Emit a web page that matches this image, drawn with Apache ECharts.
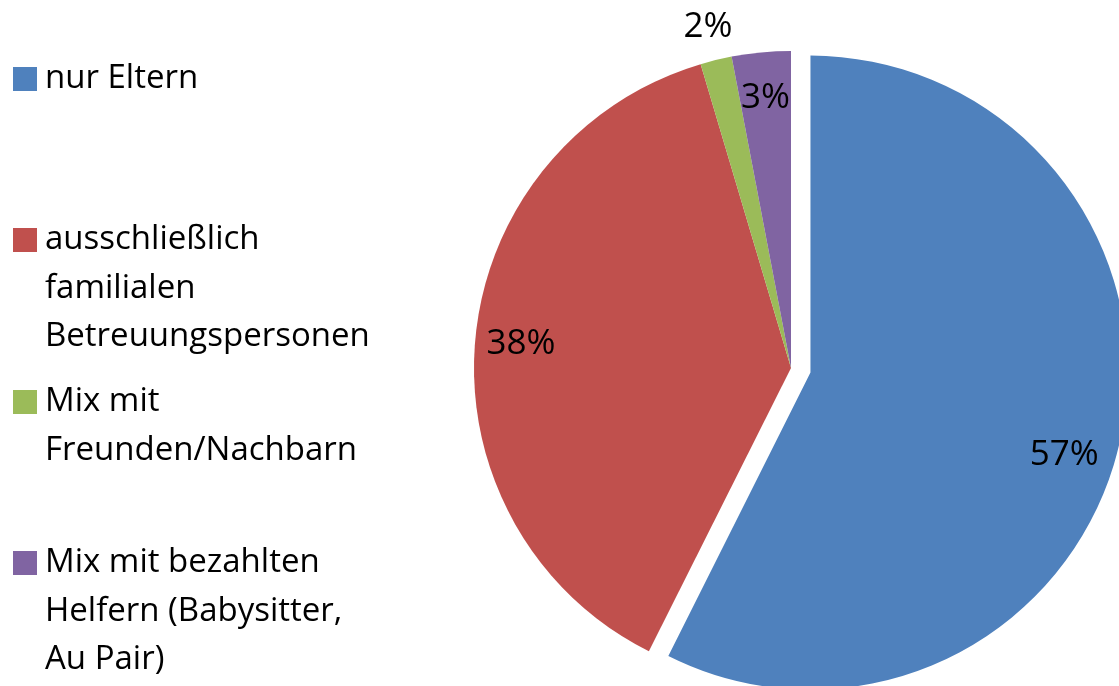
<!DOCTYPE html>
<html>
<head>
<meta charset="utf-8">
<script src="https://cdn.jsdelivr.net/npm/echarts@6/dist/echarts.min.js"></script>
<style>
  html, body { margin: 0; padding: 0; background: #fff; }
  #chart { width: 1119px; height: 686px; }
</style>
</head>
<body>
<div id="chart"></div>
<script>
// Daten
const categories = [
  'nur Eltern',
  'ausschließlich familialen Betreuungspersonen',
  'Mix mit Freunden/Nachbarn',
  'Mix mit bezahlten Helfern (Babysitter, Au Pair)'
];
const legendLines = [
  ['nur Eltern'],
  ['ausschließlich', 'familialen', 'Betreuungspersonen'],
  ['Mix mit', 'Freunden/Nachbarn'],
  ['Mix mit bezahlten', 'Helfern (Babysitter,', 'Au Pair)']
];
const shares = [57.4, 38.0, 1.6, 3.0];
const explodedSlice = 'nur Eltern';
const outsideLabels = ['Mix mit Freunden/Nachbarn'];

const colors = ['#4F81BD', '#C0504D', '#9BBB59', '#8064A2'];
const FONT = '"Open Sans"';
const LH = 48.5;
const iconCenters = [79, 240, 402, 563];
const center = [791, 368];
const R = 317;
const OFFSET = 20;

const chart = echarts.init(document.getElementById('chart'));

const pieData = (transparent) => categories.map((name, i) => ({
  name: name,
  value: shares[i],
  selected: name === explodedSlice,
  itemStyle: transparent ? { color: 'rgba(0,0,0,0)' } : { color: colors[i] }
}));

// Legende: je Eintrag eine eigene Komponente; Leerzeilen oben, damit das Symbol an der ersten Zeile sitzt
const legends = categories.map((name, i) => {
  const n = legendLines[i].length;
  const pad = new Array(n - 1).fill(' ');
  return {
    data: [name],
    left: 13,
    top: iconCenters[i] - (2 * n - 1) * LH / 2,
    orient: 'vertical',
    icon: 'rect',
    itemWidth: 24,
    itemHeight: 24,
    padding: 0,
    selectedMode: false,
    formatter: () => pad.concat(legendLines[i]).join('\n'),
    textStyle: {
      fontFamily: FONT,
      fontSize: 33,
      lineHeight: LH,
      color: '#000',
      padding: [0, 0, 0, 3]
    }
  };
});

const labelSeries = (radius, wantOutside) => ({
  type: 'pie',
  center: center,
  radius: [0, radius],
  silent: true,
  selectedMode: 'single',
  selectedOffset: OFFSET,
  emphasis: { disabled: true },
  label: {
    show: true,
    position: 'inside',
    fontFamily: FONT,
    fontSize: 35,
    color: '#000',
    formatter: p => (outsideLabels.includes(p.name) === wantOutside) ? Math.round(p.percent) + '%' : ''
  },
  // Excel setzt die 57%-Beschriftung etwas tiefer
  labelLayout: p => p.dataIndex === 0 ? { dx: -10, dy: 20 } : {},
  labelLine: { show: false },
  data: pieData(true)
});

chart.setOption({
  animation: false,
  legend: legends,
  series: [
    {
      type: 'pie',
      center: center,
      radius: [0, R],
      selectedMode: 'single',
      selectedOffset: OFFSET,
      label: { show: false },
      labelLine: { show: false },
      emphasis: { disabled: true },
      itemStyle: { borderWidth: 0 },
      data: pieData(false)
    },
    labelSeries(2 * 268, false),
    labelSeries(2 * 348, true)
  ]
});
</script>
</body>
</html>
